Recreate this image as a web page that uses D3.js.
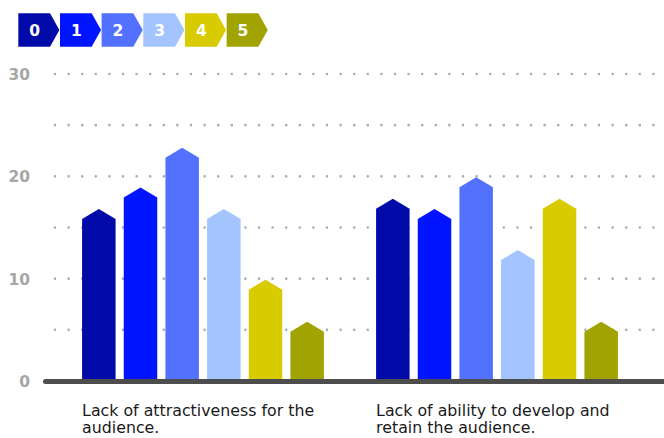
<!DOCTYPE html>
<html>
<head>
<meta charset="utf-8">
<script src="https://cdn.jsdelivr.net/npm/d3@7/dist/d3.min.js"></script>
<style>
  html, body { margin: 0; padding: 0; background: #ffffff; }
  svg { display: block; }
</style>
</head>
<body>
<svg id="chart" width="664" height="438"></svg>
<script>
// ---- data ----
const categories = ["Lack of attractiveness for the audience.", "Lack of ability to develop and retain the audience."];
const seriesNames = ["0", "1", "2", "3", "4", "5"];
const series0 = [16.8, 17.8];
const series1 = [18.9, 16.8];
const series2 = [22.8, 19.9];
const series3 = [16.8, 12.8];
const series4 = [9.9, 17.8];
const series5 = [5.8, 5.8];
const yTicks = [0, 10, 20, 30];
const gridValues = [5, 10, 15, 20, 25, 30];
const colors = ["#000aa8", "#0014ff", "#5271ff", "#a3c4ff", "#d8cc00", "#a1a400"];

const allSeries = [series0, series1, series2, series3, series4, series5];

const svg = d3.select("#chart");

// ---- scales ----
const y = d3.scaleLinear().domain([0, 30]).range([381, 74]);
const x0 = d3.scaleBand().domain(categories).range([56, 644]).paddingInner(0).paddingOuter(0);
const x1 = d3.scaleBand().domain(seriesNames).range([0, x0.bandwidth()]).paddingInner(0.196).paddingOuter(0.626);

// ---- gridlines (dotted) ----
svg.append("g").selectAll("line").data(gridValues).join("line")
  .attr("x1", 55).attr("x2", 656)
  .attr("y1", d => y(d)).attr("y2", d => y(d))
  .attr("stroke", "#ababab")
  .attr("stroke-width", 2.6)
  .attr("stroke-linecap", "round")
  .attr("stroke-dasharray", "0 13.6");

// ---- y tick labels ----
const yAxis = d3.axisLeft(y).tickValues(yTicks).tickSize(0).tickPadding(0).tickFormat(d3.format("d"));
const yg = svg.append("g").attr("transform", "translate(30,0)").call(yAxis);
yg.select(".domain").remove();
yg.selectAll("text")
  .attr("fill", "#a6a6a6")
  .attr("font-family", "'DejaVu Sans', sans-serif")
  .attr("font-weight", "bold")
  .attr("font-size", 15.5)
  .attr("dy", "0.36em");

// ---- bars (arrow-topped) ----
const arrowH = 10;
const groups = svg.append("g").selectAll("g").data(categories).join("g")
  .attr("transform", d => `translate(${x0(d)},0)`);

groups.selectAll("path").data((c, ci) => seriesNames.map((s, si) => ({ s, si, v: allSeries[si][ci] })))
  .join("path")
  .attr("fill", d => colors[d.si])
  .attr("d", d => {
    const xa = x1(d.s), xb = xa + x1.bandwidth(), xc = (xa + xb) / 2;
    const top = y(d.v), sh = top + arrowH, bot = y(0);
    return `M${xa},${bot}L${xa},${sh}L${xc},${top}L${xb},${sh}L${xb},${bot}Z`;
  });

// ---- baseline axis ----
svg.append("line")
  .attr("x1", 45.5).attr("x2", 680)
  .attr("y1", 381.5).attr("y2", 381.5)
  .attr("stroke", "#4d4d4d")
  .attr("stroke-width", 5)
  .attr("stroke-linecap", "round");

// ---- category labels (wrapped) ----
const wrapWidth = 245;
categories.forEach(cat => {
  const gx = x0(cat) + x1(seriesNames[0]);
  const t = svg.append("text")
    .attr("x", gx).attr("y", 416)
    .attr("font-family", "'DejaVu Sans', sans-serif")
    .attr("font-size", 15.8)
    .attr("fill", "#1a1a1a");
  const words = cat.split(" ");
  let line = [];
  let tspan = t.append("tspan").attr("x", gx).attr("dy", 0);
  words.forEach(w => {
    line.push(w);
    tspan.text(line.join(" "));
    if (tspan.node().getComputedTextLength() > wrapWidth && line.length > 1) {
      line.pop();
      tspan.text(line.join(" "));
      line = [w];
      tspan = t.append("tspan").attr("x", gx).attr("dy", 16.5).text(w);
    }
  });
});

// ---- legend (chevrons) ----
const lgX = 18.3, lgY = 13.3, lgStep = 41.67, lgRect = 31.7, lgTip = 9.4, lgH = 33.4;
const lg = svg.append("g").selectAll("g").data(seriesNames).join("g")
  .attr("transform", (d, i) => `translate(${lgX + i * lgStep},${lgY})`);
lg.append("path")
  .attr("fill", (d, i) => colors[i])
  .attr("d", `M0,0L${lgRect},0L${lgRect + lgTip},${lgH / 2}L${lgRect},${lgH}L0,${lgH}Z`);
lg.append("text")
  .attr("x", lgRect / 2 + 0.5).attr("y", lgH / 2)
  .attr("dy", "0.36em")
  .attr("text-anchor", "middle")
  .attr("fill", "#ffffff")
  .attr("font-family", "'DejaVu Sans', sans-serif")
  .attr("font-weight", "bold")
  .attr("font-size", 15.5)
  .text(d => d);
</script>
</body>
</html>
